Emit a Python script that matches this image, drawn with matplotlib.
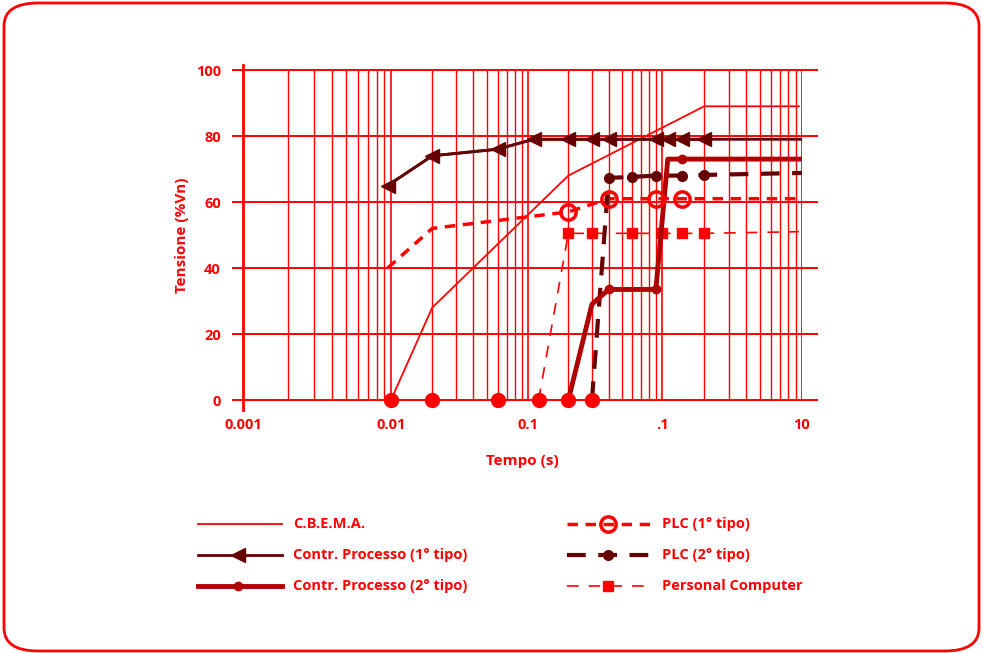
import matplotlib
matplotlib.use("Agg")
import numpy as np
import matplotlib.pyplot as plt
from matplotlib.patches import FancyBboxPatch

plt.rcParams['font.family'] = ['Open Sans', 'DejaVu Sans']
plt.rcParams['font.weight'] = 'bold'

RED = '#ff0000'
MAROON = '#660000'
DARKRED = '#b00000'

# curve data (tempo in s, tensione in % Vn)
cbema_t = [0.01, 0.02, 0.2, 2, 9.5]
cbema_v = [0, 28, 68, 89, 89]

cp1_t = [0.0095, 0.02, 0.06, 0.11, 0.2, 0.3, 0.4, 0.9, 1.1, 1.4, 2, 10]
cp1_v = [65, 74, 76, 79, 79, 79, 79, 79, 79, 79, 79, 79]

cp2_t = [0.2, 0.3, 0.4, 0.9, 1.1, 1.4, 10]
cp2_v = [0, 29, 33.5, 33.5, 73, 73, 73]

plc1_t = [0.0095, 0.02, 0.2, 0.4, 0.9, 1.4, 10]
plc1_v = [40, 52, 57, 61, 61, 61, 61]

plc2_t = [0.3, 0.4, 0.6, 0.9, 1.4, 2, 10]
plc2_v = [0, 67.3, 67.6, 68, 68, 68.2, 68.8]

pc_t = [0.12, 0.2, 0.3, 0.6, 1.0, 1.4, 2, 9.5]
pc_v = [0, 50.5, 50.5, 50.5, 50.5, 50.5, 50.5, 51]

zero_t = [0.01, 0.02, 0.06, 0.12, 0.2, 0.3]

xticks = [0.001, 0.01, 0.1, 1, 10]
xticklabels = ['0.001', '0.01', '0.1', '.1', '10']
yticks = [0, 20, 40, 60, 80, 100]

# the printed grid has decades of slightly different width
dec_log = [-3, -2, -1, 0, 1]
dec_pos = [0, 148, 285, 419, 559]


def fwd(x):
    return np.interp(np.log10(np.clip(x, 1e-6, None)), dec_log, dec_pos,
                     left=-1e3, right=1e3)


def inv(p):
    return 10 ** np.interp(p, dec_pos, dec_log)


fig = plt.figure(figsize=(9.83, 6.53), dpi=100)
W, H = 983, 653

# rounded border
fig.patches.append(FancyBboxPatch((4 / W, 2 / H), 975 / W, 648 / H,
                                  boxstyle="round,pad=0,rounding_size=0.035",
                                  transform=fig.transFigure, fill=False,
                                  edgecolor=RED, lw=2))

ax = fig.add_axes([243 / W, (H - 400) / H, 559 / W, 330 / H])
ax.set_xscale('function', functions=(fwd, inv))
ax.set_xlim(0.001, 10)
ax.set_ylim(0, 100)
for s in ax.spines.values():
    s.set_visible(False)

# grid
for dec in [0.001, 0.01, 0.1, 1]:
    for m in range(2, 10):
        ax.plot([dec * m, dec * m], [0, 100], color=RED, lw=1, zorder=1)
for x in [0.01, 0.1, 1]:
    ax.plot([x, x], [0, 100], color=RED, lw=1.2, zorder=1)
ax.plot([10, 10], [0, 100], color=RED, lw=2, zorder=1)
ax.plot([0.001, 0.001], [-3, 101.5], color=RED, lw=2, zorder=1, clip_on=False)
for y in yticks:
    ax.plot([-0.018, 1.027], [y, y], color=RED, lw=1.4, zorder=1,
            transform=ax.get_yaxis_transform(), clip_on=False)

ax.tick_params(length=0, colors=RED, labelsize=10.5)
ax.set_xticks(xticks)
ax.set_xticklabels(xticklabels, fontweight='bold')
ax.set_yticks(yticks)
ax.set_yticklabels([str(y) for y in yticks], fontweight='bold')
ax.minorticks_off()
ax.tick_params(axis='x', pad=13)
ax.tick_params(axis='y', pad=16)
ax.set_xlabel('Tempo (s)', color=RED, fontsize=11, fontweight='bold', labelpad=16)
ax.set_ylabel('Tensione (%Vn)', color=RED, fontsize=11, fontweight='bold', labelpad=5)

style = {
    'cbema': dict(color=RED, lw=1.3),
    'cp1': dict(color=MAROON, lw=2, marker='<', ms=10),
    'cp2': dict(color=DARKRED, lw=3.5, marker='o', ms=6),
    'plc1': dict(color=RED, lw=2.5, dashes=(3, 2.2), marker='o', ms=11,
                 mfc='none', mew=2.5),
    'plc2': dict(color=MAROON, lw=3, dashes=(4.5, 3), marker='o', ms=7),
    'pc': dict(color=RED, lw=1.2, dashes=(7, 6), marker='s', ms=7),
}

ax.plot(cbema_t, cbema_v, zorder=3, **style['cbema'])
ax.plot(cp1_t[:-1], cp1_v[:-1], zorder=4, **style['cp1'])
ax.plot(cp1_t, cp1_v, color=MAROON, lw=2, zorder=4)
ax.plot(pc_t[1:-1], pc_v[1:-1], ls='none', marker='s', ms=7, color=RED, zorder=5)
ax.plot(pc_t, pc_v, color=RED, lw=1.2, dashes=(7, 6), zorder=3)
ax.plot(plc1_t, plc1_v, color=RED, lw=2.5, dashes=(3, 2.2), zorder=4)
ax.plot(plc1_t[2:-1], plc1_v[2:-1], ls='none', marker='o', ms=11, mfc='none',
        mew=2.5, color=RED, zorder=6)
ax.plot(plc2_t, plc2_v, color=MAROON, lw=3, dashes=(4.5, 3), zorder=4)
ax.plot(plc2_t[1:-1], plc2_v[1:-1], ls='none', marker='o', ms=7, color=MAROON, zorder=6)
ax.plot(cp2_t, cp2_v, color=DARKRED, lw=3.5, zorder=5)
ax.plot([cp2_t[2], cp2_t[3], cp2_t[5]], [cp2_v[2], cp2_v[3], cp2_v[5]],
        ls='none', marker='o', ms=6, color=DARKRED, zorder=6)
ax.plot(zero_t, [0] * len(zero_t), ls='none', marker='o', ms=10, color=RED,
        zorder=7, clip_on=False)

# legend drawn in pixel coordinates
lg = fig.add_axes([0, 0, 1, 1], zorder=-1)
lg.set_xlim(0, W)
lg.set_ylim(H, 0)
lg.axis('off')

legend_left = [('C.B.E.M.A.', 'cbema', 524), ('Contr. Processo (1° tipo)', 'cp1', 555),
               ('Contr. Processo (2° tipo)', 'cp2', 586)]
legend_right = [('PLC (1° tipo)', 'plc1', 524), ('PLC (2° tipo)', 'plc2', 555),
                ('Personal Computer', 'pc', 586)]

for items, x0, x1, xm, xt in [(legend_left, 198, 282, 238, 293),
                              (legend_right, 567, 652, 608, 662)]:
    for label, key, y in items:
        st = dict(style[key])
        marker = st.pop('marker', None)
        ms = st.pop('ms', None)
        mfc = st.pop('mfc', None)
        mew = st.pop('mew', None)
        lg.plot([x0, x1], [y, y], **st)
        if marker:
            kw = dict(ls='none', marker=marker, ms=ms, color=st['color'])
            if mfc:
                kw.update(mfc=mfc, mew=mew)
            lg.plot([xm], [y], **kw)
        lg.text(xt, y, label, color=RED, fontsize=10.5, fontweight='bold',
                va='center', ha='left')

fig.savefig('out.png', dpi=100)
